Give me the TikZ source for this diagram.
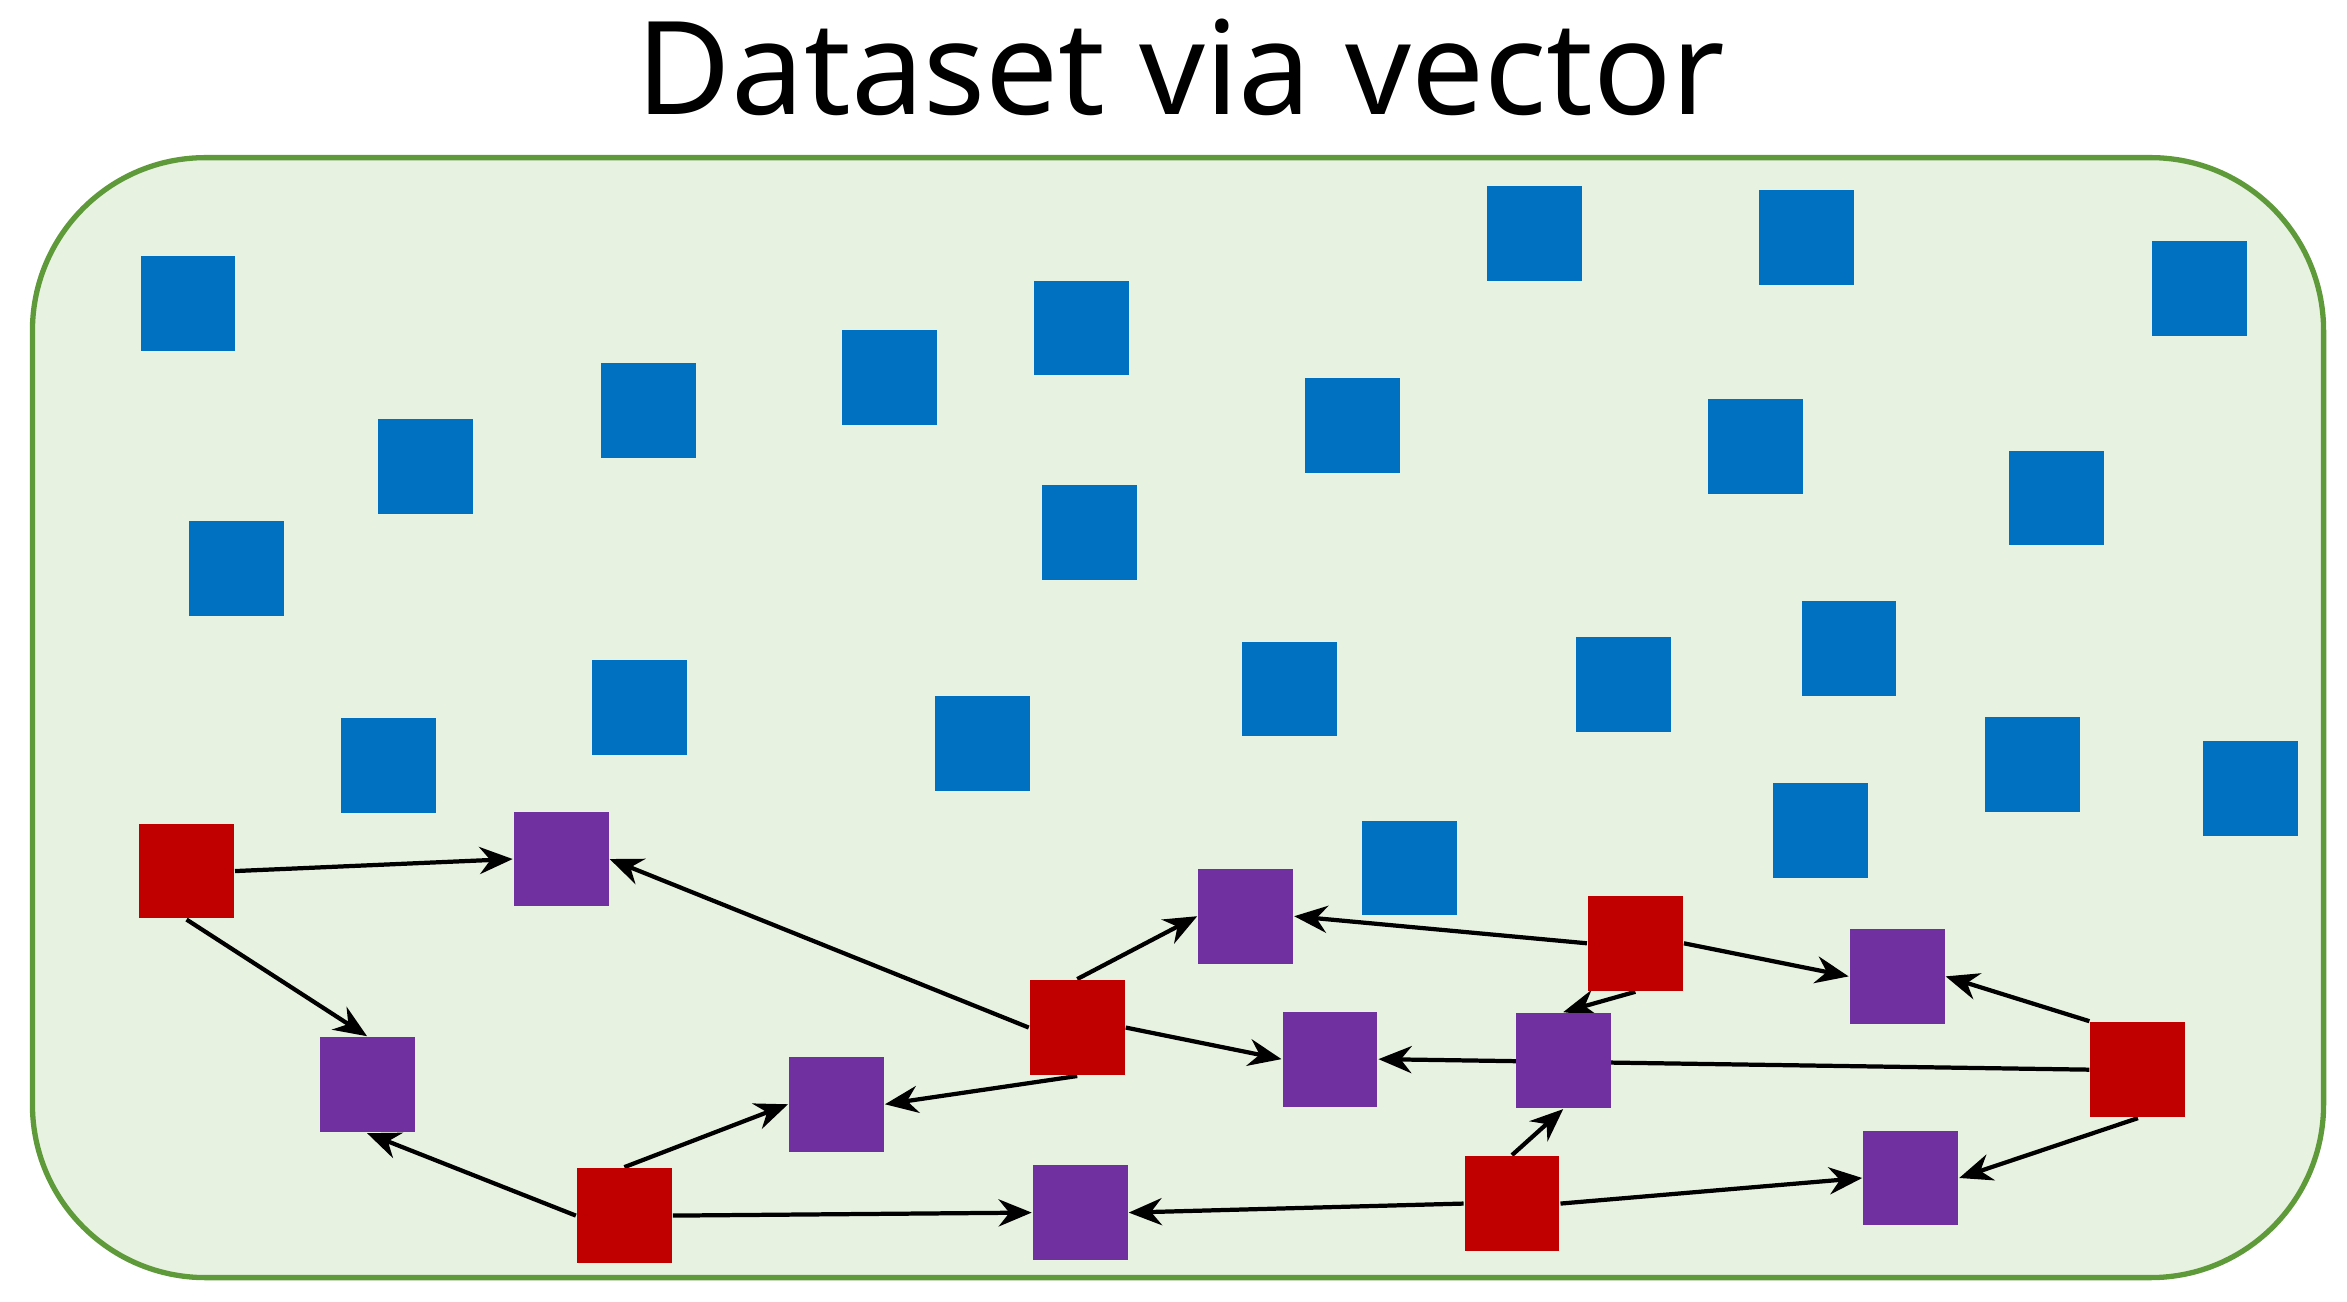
\documentclass[tikz,border=0pt]{standalone}
\usepackage{fontspec}
\setmainfont{Noto Sans}
\usetikzlibrary{arrows.meta,backgrounds}
\definecolor{bl}{HTML}{0070C0}
\definecolor{rd}{HTML}{C00000}
\definecolor{pu}{HTML}{7030A0}
\definecolor{bg}{HTML}{E8F2E1}
\definecolor{bd}{HTML}{5E9A3A}
\tikzset{
 sq/.style={minimum size=0.63cm,inner sep=0pt,draw=none},
 B/.style={sq,fill=bl}, R/.style={sq,fill=rd}, P/.style={sq,fill=pu},
 ar/.style={-{Stealth[length=2.2mm,width=1.8mm]},line width=0.8pt,black}
}
\begin{document}
\begin{tikzpicture}[x=0.01cm,y=-0.01cm]
\useasboundingbox (0,0) rectangle (1560,865);
\node (title) at (785,45) {\fontsize{24.5pt}{28pt}\selectfont Dataset via vector};
\foreach \i/\x/\y in {1/125/202,2/283/310,3/157/378,4/431/273,5/591/251,6/719/218,7/724/354,8/258/509,9/425/470,10/653/494,11/857/458,12/899/283,13/1020/155,14/1201/158,15/1167/297,16/1462/192,17/1367/331,18/1229/431,19/1079/455,20/1351/508,21/1210/552,22/1496/524,23/937/577}
  \node[B] (b\i) at (\x,\y) {};
\node[R] (r1) at (124,579) {};
\node[R] (r2) at (716,683) {};
\node[R] (r3) at (1087,627) {};
\node[R] (r4) at (415,808) {};
\node[R] (r5) at (1005,800) {};
\node[R] (r6) at (1421,711) {};
\node[P] (p1) at (373,571) {};
\node[P] (p2) at (244,721) {};
\node[P] (p3) at (556,734) {};
\node[P] (p4) at (828,609) {};
\node[P] (p5) at (884,704) {};
\node[P] (p6) at (1039,705) {};
\node[P] (p7) at (1261,649) {};
\node[P] (p8) at (718,806) {};
\node[P] (p9) at (1270,783) {};
\begin{scope}[on background layer]
\node[draw=bd,fill=bg,line width=1pt,rounded corners=1.15cm,minimum width=15.22cm,minimum height=7.44cm,inner sep=0pt] (frame) at (783,477) {};
\draw[ar] (r1.east) -- (p1.west);
\draw[ar] (r1.south) -- (p2.north);
\draw[ar] (r2.west) -- (p1.east);
\draw[ar] (r2.north) -- (p4.west);
\draw[ar] (r2.east) -- (p5.west);
\draw[ar] (r2.south) -- (p3.east);
\draw[ar] (r3.west) -- (p4.east);
\draw[ar] (r3.east) -- (p7.west);
\draw[ar] (r3.south) -- (p6.north);
\draw[ar] (r4.west) -- (p2.south);
\draw[ar] (r4.north) -- (p3.west);
\draw[ar] (r4.east) -- (p8.west);
\draw[ar] (r5.west) -- (p8.east);
\draw[ar] (r5.north) -- (p6.south);
\draw[ar] (r5.east) -- (p9.west);
\draw[ar] (r6.north west) -- (p7.east);
\draw[ar] (r6.west) -- (p5.east);
\draw[ar] (r6.south) -- (p9.east);
\end{scope}
\end{tikzpicture}
\end{document}
